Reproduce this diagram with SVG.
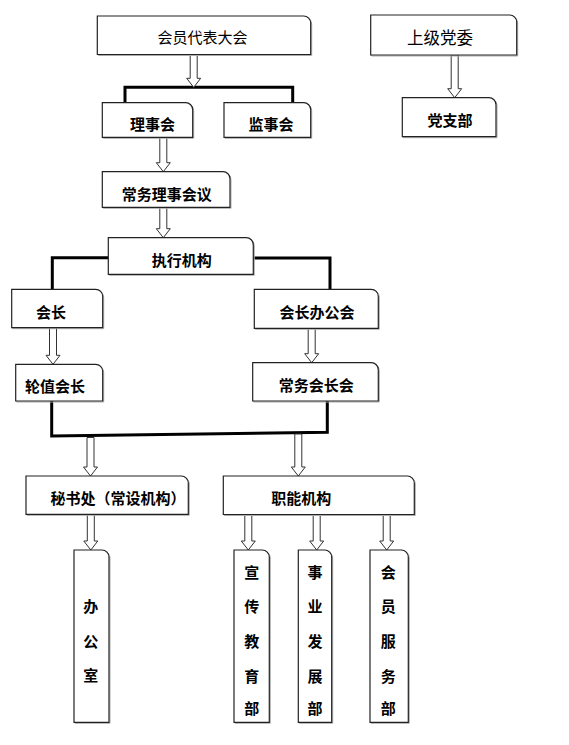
<svg xmlns="http://www.w3.org/2000/svg" width="569" height="745" viewBox="0 0 569 745">
<style>
.bx{fill:#fff;stroke:#222;stroke-width:1.2}
.sh{fill:none;stroke:#aaa;stroke-width:1}
.t{font-family:"Noto Sans CJK SC","Noto Sans",sans-serif;font-size:15px;font-weight:bold;fill:#000;text-anchor:middle;dominant-baseline:central}
.tn{font-weight:normal}
.ar{fill:#fff;stroke:#333;stroke-width:1}
.br{fill:none;stroke:#000;stroke-width:3;stroke-linejoin:miter}
</style>
<rect width="569" height="745" fill="#fff"/>
<g id="connectors">
<path class="br" d="M125,102.7 V87.3 H292.7 V102.7"/>
<path class="br" d="M108.3,257.7 H52.3 V289.3"/>
<path class="br" d="M253.3,258 H330 V289.3"/>
<path class="br" d="M51.7,401 V436 L327.3,432.3 V401"/>
<path class="ar" d="M190.2,54.5 H197.2 V78.3 H200.7 L193.7,87.3 L186.7,78.3 H190.2 Z"/>
<path class="ar" d="M451.2,55 H458.2 V88.7 H461.7 L454.7,97.7 L447.7,88.7 H451.2 Z"/>
<path class="ar" d="M159.8,137.3 H166.8 V162.7 H170.3 L163.3,171.7 L156.3,162.7 H159.8 Z"/>
<path class="ar" d="M159.8,207.3 H166.8 V228.7 H170.3 L163.3,237.7 L156.3,228.7 H159.8 Z"/>
<path class="ar" d="M49.5,327.7 H56.5 V355.3 H60 L53,364.3 L46,355.3 H49.5 Z"/>
<path class="ar" d="M308.2,328.3 H315.2 V353.7 H318.7 L311.7,362.7 L304.7,353.7 H308.2 Z"/>
<path class="ar" d="M87,437.5 H94 V467 H97.5 L90.5,476 L83.5,467 H87 Z"/>
<path class="ar" d="M294.8,434 H301.8 V467 H305.3 L298.3,476 L291.3,467 H294.8 Z"/>
<path class="ar" d="M87.3,514.3 H94.3 V541 H97.8 L90.8,550 L83.8,541 H87.3 Z"/>
<path class="ar" d="M244.8,514.5 H251.8 V541 H255.3 L248.3,550 L241.3,541 H244.8 Z"/>
<path class="ar" d="M313.2,514.5 H320.2 V541 H323.7 L316.7,550 L309.7,541 H313.2 Z"/>
<path class="ar" d="M383.2,514.5 H390.2 V541 H393.7 L386.7,550 L379.7,541 H383.2 Z"/>
</g>
<g id="n-hyddbdh">
<path class="sh" transform="translate(1,1)" d="M97.3,16 H303.7 A7,7 0 0 1 310.7,23 V54.5 H97.3 Z"/>
<path class="bx" d="M97.3,16 H303.7 A7,7 0 0 1 310.7,23 V54.5 H97.3 Z"/>
<text class="t tn" x="202.5" y="36">会员代表大会</text>
</g>
<g id="n-sjdw">
<path class="sh" transform="translate(1,1)" d="M370.7,15 H509.7 A7,7 0 0 1 516.7,22 V55 H370.7 Z"/>
<path class="bx" d="M370.7,15 H509.7 A7,7 0 0 1 516.7,22 V55 H370.7 Z"/>
<text class="t tn" x="440" y="37" style="font-size:16.5px">上级党委</text>
</g>
<g id="n-lsh">
<path class="sh" transform="translate(1,1)" d="M102.3,102.7 H185.7 A7,7 0 0 1 192.7,109.7 V137.3 H102.3 Z"/>
<path class="bx" d="M102.3,102.7 H185.7 A7,7 0 0 1 192.7,109.7 V137.3 H102.3 Z"/>
<text class="t" x="152.5" y="123.3">理事会</text>
</g>
<g id="n-jsh">
<path class="sh" transform="translate(1,1)" d="M224,102.7 H303.7 A7,7 0 0 1 310.7,109.7 V137.3 H224 Z"/>
<path class="bx" d="M224,102.7 H303.7 A7,7 0 0 1 310.7,109.7 V137.3 H224 Z"/>
<text class="t" x="271" y="123.3">监事会</text>
</g>
<g id="n-dzb">
<path class="sh" transform="translate(1,1)" d="M402.3,97.7 H489 A7,7 0 0 1 496,104.7 V136.7 H402.3 Z"/>
<path class="bx" d="M402.3,97.7 H489 A7,7 0 0 1 496,104.7 V136.7 H402.3 Z"/>
<text class="t" x="450" y="119.3">党支部</text>
</g>
<g id="n-cwlshy">
<path class="sh" transform="translate(1,1)" d="M102.3,171.7 H223 A7,7 0 0 1 230,178.7 V207.3 H102.3 Z"/>
<path class="bx" d="M102.3,171.7 H223 A7,7 0 0 1 230,178.7 V207.3 H102.3 Z"/>
<text class="t" x="166.7" y="193">常务理事会议</text>
</g>
<g id="n-zxjg">
<path class="sh" transform="translate(1,1)" d="M108.3,237.7 H246.3 A7,7 0 0 1 253.3,244.7 V274.3 H108.3 Z"/>
<path class="bx" d="M108.3,237.7 H246.3 A7,7 0 0 1 253.3,244.7 V274.3 H108.3 Z"/>
<text class="t" x="181.7" y="259">执行机构</text>
</g>
<g id="n-hz">
<path class="sh" transform="translate(1,1)" d="M11.7,289.3 H95.7 A7,7 0 0 1 102.7,296.3 V327.7 H11.7 Z"/>
<path class="bx" d="M11.7,289.3 H95.7 A7,7 0 0 1 102.7,296.3 V327.7 H11.7 Z"/>
<text class="t" x="51" y="311.5">会长</text>
</g>
<g id="n-hzbgh">
<path class="sh" transform="translate(1,1)" d="M254.3,289.3 H371.3 A7,7 0 0 1 378.3,296.3 V328.3 H254.3 Z"/>
<path class="bx" d="M254.3,289.3 H371.3 A7,7 0 0 1 378.3,296.3 V328.3 H254.3 Z"/>
<text class="t" x="317" y="311">会长办公会</text>
</g>
<g id="n-lzhz">
<path class="sh" transform="translate(1,1)" d="M15.7,364.3 H95.7 A7,7 0 0 1 102.7,371.3 V401 H15.7 Z"/>
<path class="bx" d="M15.7,364.3 H95.7 A7,7 0 0 1 102.7,371.3 V401 H15.7 Z"/>
<text class="t" x="55" y="385.5">轮值会长</text>
</g>
<g id="n-cwhzh">
<path class="sh" transform="translate(1,1)" d="M252.7,362.7 H371.3 A7,7 0 0 1 378.3,369.7 V401 H252.7 Z"/>
<path class="bx" d="M252.7,362.7 H371.3 A7,7 0 0 1 378.3,369.7 V401 H252.7 Z"/>
<text class="t" x="316.3" y="384">常务会长会</text>
</g>
<g id="n-msc">
<path class="sh" transform="translate(1,1)" d="M26,476 H181.3 A7,7 0 0 1 188.3,483 V514.3 H26 Z"/>
<path class="bx" d="M26,476 H181.3 A7,7 0 0 1 188.3,483 V514.3 H26 Z"/>
<text class="t" x="118" y="497">秘书处（常设机构）</text>
</g>
<g id="n-znjg">
<path class="sh" transform="translate(1,1)" d="M223.3,476 H407.3 A7,7 0 0 1 414.3,483 V514.5 H223.3 Z"/>
<path class="bx" d="M223.3,476 H407.3 A7,7 0 0 1 414.3,483 V514.5 H223.3 Z"/>
<text class="t" x="301.2" y="497">职能机构</text>
</g>
<g id="n-bgs">
<path class="sh" transform="translate(1,1)" d="M74,550 H102 A7,7 0 0 1 109,557 V722.3 H74 Z"/>
<path class="bx" d="M74,550 H102 A7,7 0 0 1 109,557 V722.3 H74 Z"/>
<text class="t" x="90.7" y="605">办</text>
<text class="t" x="90.7" y="640">公</text>
<text class="t" x="90.7" y="674">室</text>
</g>
<g id="n-xcjyb">
<path class="sh" transform="translate(1,1)" d="M234,550 H262.3 A7,7 0 0 1 269.3,557 V722.3 H234 Z"/>
<path class="bx" d="M234,550 H262.3 A7,7 0 0 1 269.3,557 V722.3 H234 Z"/>
<text class="t" x="251.7" y="571.7">宣</text>
<text class="t" x="251.7" y="605.5">传</text>
<text class="t" x="251.7" y="640">教</text>
<text class="t" x="251.7" y="675">育</text>
<text class="t" x="251.7" y="707">部</text>
</g>
<g id="n-syfzb">
<path class="sh" transform="translate(1,1)" d="M298.3,550 H324.7 A7,7 0 0 1 331.7,557 V722.3 H298.3 Z"/>
<path class="bx" d="M298.3,550 H324.7 A7,7 0 0 1 331.7,557 V722.3 H298.3 Z"/>
<text class="t" x="315" y="571.7">事</text>
<text class="t" x="315" y="605.5">业</text>
<text class="t" x="315" y="640">发</text>
<text class="t" x="315" y="675">展</text>
<text class="t" x="315" y="707">部</text>
</g>
<g id="n-hyfwb">
<path class="sh" transform="translate(1,1)" d="M370,550 H401.3 A7,7 0 0 1 408.3,557 V722.3 H370 Z"/>
<path class="bx" d="M370,550 H401.3 A7,7 0 0 1 408.3,557 V722.3 H370 Z"/>
<text class="t" x="388.3" y="571.7">会</text>
<text class="t" x="388.3" y="605.5">员</text>
<text class="t" x="388.3" y="640">服</text>
<text class="t" x="388.3" y="675">务</text>
<text class="t" x="388.3" y="707">部</text>
</g>
</svg>
